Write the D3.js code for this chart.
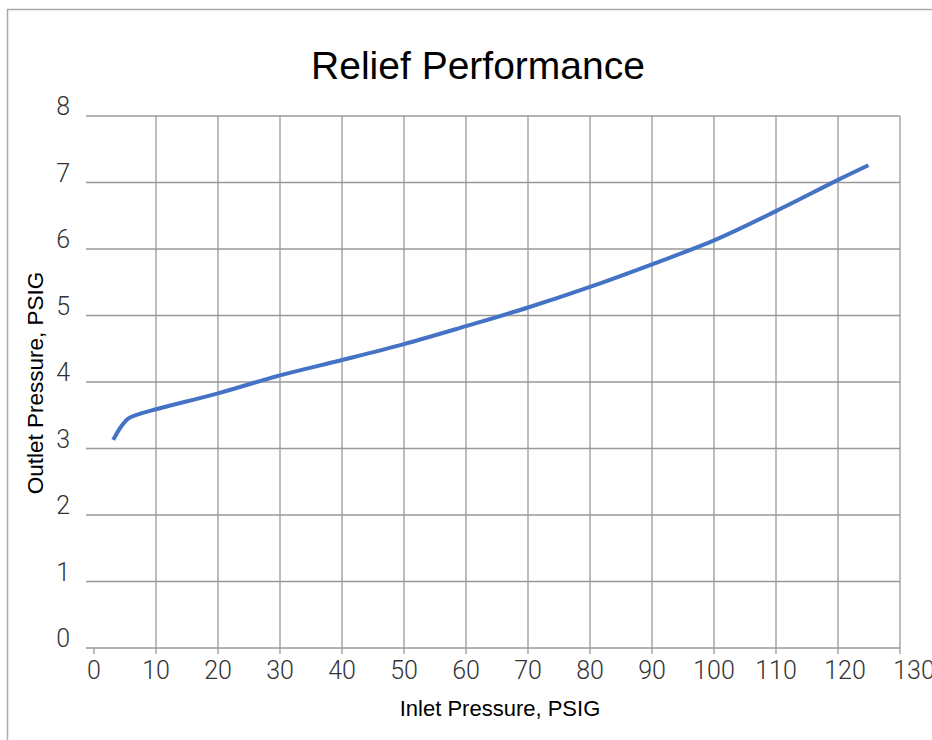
<!DOCTYPE html>
<html>
<head>
<meta charset="utf-8">
<script src="https://cdn.jsdelivr.net/npm/d3@7"></script>
<style>
  body { margin: 0; background: #fff; }
  text.tick { font-family: Roboto, "Liberation Sans", sans-serif; font-weight: 300; }
  text.ttl { font-family: "Liberation Sans", Arial, sans-serif; }
</style>
</head>
<body>
<div id="content"></div>
<script>
// curve
var inletPsig  = [3.1, 4.3, 5.5, 7, 10, 20, 30, 40, 50, 60, 70, 80, 90, 100, 110, 120, 124.9];
var outletPsig = [3.13, 3.32, 3.45, 3.51, 3.59, 3.83, 4.10, 4.33, 4.57, 4.84, 5.12, 5.43, 5.77, 6.13, 6.57, 7.04, 7.26];
var xTicks = [0, 10, 20, 30, 40, 50, 60, 70, 80, 90, 100, 110, 120, 130];
var yTicks = [0, 1, 2, 3, 4, 5, 6, 7, 8];

var width = 932, height = 740;
var plot = {l: 94, r: 900, t: 116, b: 648};

var svg = d3.select("#content")
            .append("svg")
            .attr("width", width)
            .attr("height", height);

// chart frame (runs off the right/bottom edges)
svg.append("rect")
   .attr("x", 7.5).attr("y", 9.5)
   .attr("width", 1000).attr("height", 1000)
   .attr("fill", "none")
   .attr("stroke", "#aaa")
   .attr("stroke-width", 1.5);

var x = d3.scaleLinear().domain([0, 130]).range([plot.l, plot.r]);
var y = d3.scaleLinear().domain([0, 8]).range([plot.b, plot.t]);

var grid = svg.append("g").attr("stroke", "#999").attr("stroke-width", 1.3);

// horizontal gridlines
grid.selectAll("line.h")
    .data(yTicks)
    .enter()
    .append("line")
    .attr("class", "h")
    .attr("x1", plot.l - 8).attr("x2", plot.r)
    .attr("y1", function(d) { return y(d); })
    .attr("y2", function(d) { return y(d); });

// vertical gridlines (x = 0 only gets the tick)
grid.selectAll("line.v")
    .data(xTicks)
    .enter()
    .append("line")
    .attr("class", "v")
    .attr("x1", function(d) { return x(d); })
    .attr("x2", function(d) { return x(d); })
    .attr("y1", function(d) { return d === 0 ? plot.b : plot.t; })
    .attr("y2", plot.b + 6);

// excel pushes the last labels a bit to the right
svg.append("g")
   .selectAll("text")
   .data(xTicks)
   .enter()
   .append("text")
   .attr("class", "tick")
   .attr("x", function(d) { return x(d); })
   .attr("dx", function(d) { return d >= 120 ? (d - 110) * 0.7 : 0; })
   .attr("y", plot.b + 31)
   .attr("text-anchor", "middle")
   .attr("font-size", 25)
   .attr("fill", "#333")
   .text(function(d) { return d; });

svg.append("g")
   .selectAll("text")
   .data(yTicks)
   .enter()
   .append("text")
   .attr("class", "tick")
   .attr("x", 70)
   .attr("y", function(d) { return y(d) - 1; })
   .attr("text-anchor", "end")
   .attr("font-size", 25)
   .attr("fill", "#333")
   .text(function(d) { return d; });

var line = d3.line()
             .x(function(d, i) { return x(inletPsig[i]); })
             .y(function(d) { return y(d); })
             .curve(d3.curveCatmullRom);

svg.append("path")
   .datum(outletPsig)
   .attr("d", line)
   .attr("fill", "none")
   .attr("stroke", "#4472C4")
   .attr("stroke-width", 4);

svg.append("text")
   .attr("class", "ttl")
   .attr("x", 478).attr("y", 79)
   .attr("text-anchor", "middle")
   .attr("font-size", 39)
   .attr("fill", "#000")
   .text("Relief Performance");

svg.append("text")
   .attr("class", "ttl")
   .attr("x", 500).attr("y", 716)
   .attr("text-anchor", "middle")
   .attr("font-size", 22)
   .attr("fill", "#000")
   .text("Inlet Pressure, PSIG");

svg.append("text")
   .attr("class", "ttl")
   .attr("transform", "translate(43,383) rotate(-90)")
   .attr("text-anchor", "middle")
   .attr("font-size", 22.5)
   .attr("fill", "#000")
   .text("Outlet Pressure, PSIG");
</script>
</body>
</html>
